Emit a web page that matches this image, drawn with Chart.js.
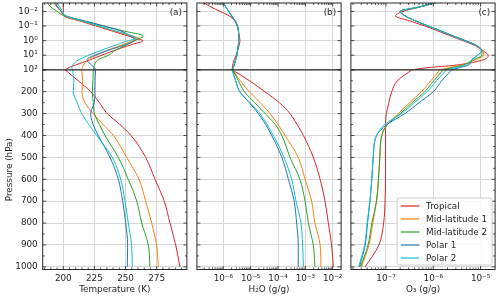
<!DOCTYPE html>
<html>
<head>
<meta charset="utf-8">
<script src="https://cdn.jsdelivr.net/npm/chart.js@4.4.1/dist/chart.umd.min.js"></script>
<style>
  html, body { margin: 0; padding: 0; background: #fff; }
  #wrap { position: relative; width: 500px; height: 299px; }
  #wrap canvas { position: absolute; left: 0; top: 0; }
</style>
</head>
<body>
<div id="wrap">
  <canvas id="cT" width="500" height="299"></canvas>
  <canvas id="cH" width="500" height="299"></canvas>
  <canvas id="cO" width="500" height="299"></canvas>
</div>
<script>
// pressure levels (hPa), shared by every profile
const pressure = [0.0025, 0.005, 0.01, 0.02, 0.05, 0.1, 0.2, 0.5, 0.7, 1, 2, 5, 10, 20, 50, 70,
                  100, 150, 200, 250, 300, 350, 400, 500, 600, 700, 800, 900, 1000];

const seriesNames = ['Tropical', 'Mid-latitude 1', 'Mid-latitude 2', 'Polar 1', 'Polar 2'];
const seriesColors = ['#d62728', '#ff7f0e', '#2ca02c', '#1f77b4', '#17becf'];

// temperature (K)
const tempTropical = [200, 200, 200, 200.5, 215, 226.3, 237.6, 252.7, 258.1, 264, 253.8, 240.2, 231.1, 222, 209, 204.5,
                      201.4, 212, 222, 229, 235.3, 245.5, 254.4, 266.2, 273.7, 281.1, 285.7, 290.3, 293.7];
const tempMid1 = [192, 195, 198, 201, 216.5, 228.1, 239.7, 255.2, 261, 256.2, 246.8, 234.4, 226.6, 220.5, 216, 215.2,
                  214.8, 215.5, 215, 217.4, 224, 232, 240.2, 250.9, 260.8, 266.2, 271, 275, 276.3];
const tempMid2 = [187, 190, 195, 201, 219, 232.8, 246.4, 264.5, 261.1, 257.5, 250.5, 241.2, 236.5, 228, 224.9, 224.4,
                  224.1, 223.8, 223.3, 224.1, 225, 229, 233.5, 244.2, 252.2, 259, 263, 268.3, 269.6];
const tempPolar1 = [193, 195.5, 198.5, 202, 219.2, 232.1, 245, 254, 256.5, 257, 249, 235, 225.5, 219, 223, 225,
                    226, 225.5, 225.5, 224.9, 222, 224, 228.1, 237.5, 244.2, 247.7, 250.1, 251.7, 251.4];
const tempPolar2 = [195, 197, 199.5, 202, 217.3, 228.8, 240.3, 256.5, 259, 252.2, 242.3, 229.2, 220.6, 212.5, 207.3, 206.8,
                    207.5, 208.5, 208, 211.2, 214.8, 220.5, 226.8, 239.4, 246.1, 249.6, 252.2, 254.9, 255.4];

// water vapour (g/g)
const h2oTropical = [1.86e-7, 3.55e-7, 7.59e-7, 1.62e-6, 2.69e-6, 3.16e-6, 3.55e-6, 3.89e-6, 3.98e-6, 4.07e-6, 3.80e-6, 3.31e-6, 2.95e-6, 2.51e-6, 2.19e-6, 2.14e-6,
                     2.09e-6, 9.12e-6, 3.31e-5, 1.12e-4, 2.75e-4, 5.01e-4, 8.51e-4, 1.95e-3, 3.47e-3, 5.25e-3, 6.92e-3, 9.12e-3, 1.05e-2];
const h2oMid1 = [1.0e-6, 1.23e-6, 1.58e-6, 2.0e-6, 2.82e-6, 3.31e-6, 3.55e-6, 3.63e-6, 3.63e-6, 3.63e-6, 3.55e-6, 3.31e-6, 3.16e-6, 2.82e-6, 2.45e-6, 2.3e-6,
                 2.19e-6, 4.17e-6, 8.91e-6, 2.24e-5, 5.13e-5, 1.0e-4, 1.82e-4, 5.50e-4, 9.77e-4, 1.70e-3, 2.24e-3, 3.47e-3, 3.72e-3];
const h2oMid2 = [1.0e-6, 1.23e-6, 1.58e-6, 2.0e-6, 2.82e-6, 3.31e-6, 3.55e-6, 3.63e-6, 3.63e-6, 3.63e-6, 3.55e-6, 3.31e-6, 3.16e-6, 2.82e-6, 2.45e-6, 2.3e-6,
                 2.19e-6, 3.55e-6, 5.89e-6, 1.41e-5, 3.39e-5, 7.94e-5, 1.38e-4, 2.75e-4, 6.31e-4, 9.77e-4, 1.29e-3, 1.95e-3, 2.24e-3];
const h2oPolar1 = [1.0e-6, 1.23e-6, 1.58e-6, 2.0e-6, 2.82e-6, 3.31e-6, 3.55e-6, 3.63e-6, 3.63e-6, 3.63e-6, 3.55e-6, 3.31e-6, 3.16e-6, 2.82e-6, 2.45e-6, 2.25e-6,
                   2.09e-6, 2.82e-6, 3.98e-6, 8.91e-6, 1.91e-5, 3.55e-5, 5.89e-5, 1.38e-4, 2.40e-4, 3.89e-4, 4.79e-4, 5.50e-4, 5.50e-4];
const h2oPolar2 = [1.0e-6, 1.23e-6, 1.58e-6, 2.0e-6, 2.82e-6, 3.31e-6, 3.55e-6, 3.63e-6, 3.63e-6, 3.63e-6, 3.55e-6, 3.31e-6, 3.16e-6, 2.82e-6, 2.45e-6, 2.25e-6,
                   2.09e-6, 2.82e-6, 3.98e-6, 9.55e-6, 2.19e-5, 3.98e-5, 6.76e-5, 1.66e-4, 3.16e-4, 4.57e-4, 6.92e-4, 7.94e-4, 8.51e-4];

// ozone (g/g)
const o3Tropical = [1.15e-6, 5.25e-7, 2.29e-7, 1.58e-7, 3.55e-7, 6.61e-7, 1.17e-6, 2.40e-6, 3.16e-6, 4.17e-6, 7.24e-6, 1.12e-5, 1.45e-5, 1.17e-5, 2.69e-6, 8.13e-7,
                    3.55e-7, 1.74e-7, 1.32e-7, 1.15e-7, 1.02e-7, 9.77e-8, 9.77e-8, 9.77e-8, 9.77e-8, 9.55e-8, 8.91e-8, 7.08e-8, 3.63e-8];
const o3Mid1 = [1.15e-6, 5.01e-7, 2.0e-7, 2.51e-7, 4.57e-7, 7.76e-7, 1.35e-6, 2.69e-6, 3.55e-6, 4.68e-6, 7.94e-6, 1.12e-5, 1.17e-5, 7.94e-6, 3.63e-6, 2.24e-6,
                1.38e-6, 8.91e-7, 5.62e-7, 3.16e-7, 1.82e-7, 1.07e-7, 8.13e-8, 7.41e-8, 6.92e-8, 6.31e-8, 5.25e-8, 4.37e-8, 3.02e-8];
const o3Mid2 = [1.15e-6, 5.01e-7, 2.0e-7, 2.51e-7, 4.57e-7, 7.76e-7, 1.35e-6, 2.69e-6, 3.55e-6, 4.68e-6, 7.94e-6, 1.07e-5, 1.07e-5, 7.24e-6, 4.07e-6, 2.63e-6,
                1.62e-6, 1.02e-6, 6.61e-7, 3.55e-7, 2.0e-7, 1.07e-7, 8.13e-8, 7.41e-8, 6.92e-8, 6.31e-8, 5.01e-8, 4.17e-8, 2.88e-8];
const o3Polar1 = [1.15e-6, 5.01e-7, 2.0e-7, 2.51e-7, 4.57e-7, 7.76e-7, 1.35e-6, 2.69e-6, 3.55e-6, 4.68e-6, 7.94e-6, 1.05e-5, 8.71e-6, 6.61e-6, 5.37e-6, 3.63e-6,
                  2.45e-6, 1.51e-6, 1.0e-6, 5.01e-7, 2.51e-7, 1.05e-7, 6.31e-8, 5.37e-8, 5.01e-8, 4.57e-8, 4.07e-8, 3.63e-8, 2.75e-8];
const o3Polar2 = [1.15e-6, 5.01e-7, 2.0e-7, 2.51e-7, 4.57e-7, 7.76e-7, 1.35e-6, 2.69e-6, 3.55e-6, 4.68e-6, 7.94e-6, 1.05e-5, 8.71e-6, 6.61e-6, 4.68e-6, 3.02e-6,
                  1.91e-6, 1.17e-6, 7.41e-7, 3.98e-7, 2.14e-7, 9.33e-8, 6.31e-8, 5.37e-8, 5.01e-8, 4.57e-8, 3.98e-8, 3.55e-8, 2.63e-8];

// tick labels
const pTopTicks = [0.01, 0.1, 1, 10, 100];
const pBotTicks = [100, 200, 300, 400, 500, 600, 700, 800, 900, 1000];
const tempTicks = [200, 225, 250, 275];
const h2oTicks = [1e-6, 1e-5, 1e-4, 1e-3, 1e-2];
const o3Ticks = [1e-7, 1e-6, 1e-5];

const INK = '#262626';
const GRID = '#d6d6d6';
const FONT = 'DejaVu Sans';
Chart.defaults.font.family = FONT;
Chart.defaults.font.size = 8.8;
Chart.defaults.color = INK;

const SUP = {'-': '\u207B', '0': '\u2070', '1': '\u00B9', '2': '\u00B2', '3': '\u00B3',
             '4': '\u2074', '5': '\u2075', '6': '\u2076', '7': '\u2077', '8': '\u2078', '9': '\u2079'};
function powLabel(v) {
  const e = Math.round(Math.log10(v));
  return '10' + String(e).split('').map(c => SUP[c]).join('');
}

function logMinor(min, max) {
  const out = [];
  for (let d = Math.floor(Math.log10(min)); d <= Math.ceil(Math.log10(max)); d++) {
    for (let k = 2; k <= 9; k++) {
      const v = k * Math.pow(10, d);
      if (v >= min && v <= max) out.push(v);
    }
  }
  return out;
}

// frame, inward ticks, 100 hPa split line, panel letter and legend
const framePlugin = {
  id: 'frame',
  afterDatasetsDraw(chart, args, opts) {
    const {ctx, chartArea: a, scales} = chart;
    ctx.save();
    ctx.strokeStyle = INK;
    ctx.lineWidth = 0.8;
    ctx.beginPath();
    const xs = scales.x;
    const vtick = (v, len) => {
      const px = xs.getPixelForValue(v);
      if (px < a.left + 0.5 || px > a.right - 0.5) return;
      ctx.moveTo(px, a.bottom); ctx.lineTo(px, a.bottom - len);
      ctx.moveTo(px, a.top); ctx.lineTo(px, a.top + len);
    };
    xs.ticks.forEach(t => vtick(t.value, 3.5));
    let xMinor = [];
    if (xs.type === 'logarithmic') xMinor = logMinor(xs.min, xs.max);
    else for (let v = Math.ceil(xs.min / 5) * 5; v <= xs.max; v += 5) if (v % 25) xMinor.push(v);
    xMinor.forEach(v => vtick(v, 2));
    ['yTop', 'yBot'].forEach(id => {
      const s = scales[id];
      const htick = (v, len) => {
        const py = s.getPixelForValue(v);
        ctx.moveTo(a.left, py); ctx.lineTo(a.left + len, py);
        ctx.moveTo(a.right, py); ctx.lineTo(a.right - len, py);
      };
      s.ticks.forEach(t => htick(t.value, 3.5));
      if (id === 'yBot') for (let v = 150; v <= 950; v += 100) htick(v, 2);
    });
    ctx.stroke();

    const yb = scales.yBot.getPixelForValue(100);
    ctx.lineWidth = 1.3;
    ctx.beginPath();
    ctx.moveTo(a.left, yb); ctx.lineTo(a.right, yb);
    ctx.stroke();
    ctx.lineWidth = 1;
    ctx.strokeRect(a.left, a.top, a.width, a.height);

    ctx.fillStyle = INK;
    ctx.font = '8.8px "' + FONT + '"';
    ctx.textAlign = 'right';
    ctx.textBaseline = 'middle';
    ctx.fillText(opts.letter, a.right - 5, a.top + 9.5);

    if (opts.legend) {
      const bw = 95, bh = 67;
      const bx = a.right - 3 - bw, by = a.bottom - 4.5 - bh;
      ctx.beginPath();
      ctx.roundRect(bx, by, bw, bh, 2.5);
      ctx.fillStyle = 'rgba(255,255,255,0.85)';
      ctx.fill();
      ctx.strokeStyle = '#cccccc';
      ctx.lineWidth = 1;
      ctx.stroke();
      ctx.textAlign = 'left';
      seriesNames.forEach((name, i) => {
        const y = by + 8 + i * 13;
        ctx.strokeStyle = seriesColors[i];
        ctx.lineWidth = 1.2;
        ctx.beginPath();
        ctx.moveTo(bx + 3.7, y); ctx.lineTo(bx + 22.3, y);
        ctx.stroke();
        ctx.fillStyle = INK;
        ctx.fillText(name, bx + 29, y + 0.5);
      });
    }
    ctx.restore();
  }
};

function buildDatasets(values) {
  const out = [];
  values.forEach((arr, s) => {
    ['yTop', 'yBot'].forEach(axis => {
      const pts = [];
      pressure.forEach((p, i) => {
        if (axis === 'yTop' ? p <= 100 : p >= 100) pts.push({x: arr[i], y: p});
      });
      out.push({
        label: seriesNames[s],
        data: pts,
        xAxisID: 'x',
        yAxisID: axis,
        borderColor: seriesColors[s],
        backgroundColor: seriesColors[s],
        borderWidth: 1,
        pointRadius: 0,
        fill: false,
        cubicInterpolationMode: 'monotone',
        order: 10 - s
      });
    });
  });
  return out;
}

function makePanel(cfg) {
  const showY = cfg.showY;
  const yCommon = {
    axis: 'y',
    position: 'left',
    stack: 'p',
    reverse: true,
    afterFit: s => { s.width = cfg.left; s.paddingTop = 0; s.paddingBottom = 0; },
    grid: {color: GRID, lineWidth: 1, drawTicks: false},
    border: {display: false}
  };
  new Chart(document.getElementById(cfg.canvas), {
    type: 'line',
    data: {datasets: buildDatasets(cfg.values)},
    plugins: [framePlugin],
    options: {
      responsive: false,
      animation: false,
      indexAxis: 'y',
      layout: {padding: {left: 0, right: 500 - cfg.right, top: 3, bottom: 0}},
      scales: {
        x: {
          type: cfg.xType,
          position: 'bottom',
          min: cfg.xMin,
          max: cfg.xMax,
          afterBuildTicks: s => { s.ticks = cfg.xTicks.map(v => ({value: v})); },
          afterFit: s => { s.height = 29.5; s.paddingLeft = 0; s.paddingRight = 0; },
          ticks: {
            autoSkip: false, maxRotation: 0, padding: 4,
            callback: v => cfg.xType === 'logarithmic' ? powLabel(v) : String(v)
          },
          grid: {color: GRID, lineWidth: 1, drawTicks: false},
          border: {display: false},
          title: {display: true, text: cfg.xTitle, padding: {top: 0, bottom: 3.7}, font: {size: 8.8}}
        },
        yBot: Object.assign({}, yCommon, {
          type: 'linear',
          min: 100,
          max: 1012,
          stackWeight: 199.7,
          afterBuildTicks: s => { s.ticks = pBotTicks.map(v => ({value: v})); },
          ticks: {display: showY, autoSkip: false, padding: 5, callback: v => v === 100 ? '' : String(v)},
          title: {display: showY, text: 'Pressure (hPa)', padding: {top: 4.7, bottom: 0}, font: {size: 8.8}}
        }),
        yTop: Object.assign({}, yCommon, {
          type: 'logarithmic',
          min: 0.00266,
          max: 100,
          stackWeight: 66.8,
          afterBuildTicks: s => { s.ticks = pTopTicks.map(v => ({value: v})); },
          ticks: {display: showY, autoSkip: false, padding: 5, callback: v => powLabel(v)}
        })
      },
      plugins: {
        legend: {display: false},
        tooltip: {enabled: false},
        frame: {letter: cfg.letter, legend: cfg.legend}
      }
    }
  });
}

makePanel({
  canvas: 'cT', values: [tempTropical, tempMid1, tempMid2, tempPolar1, tempPolar2],
  xType: 'linear', xMin: 183.45, xMax: 299.3, xTicks: tempTicks, xTitle: 'Temperature (K)',
  left: 42.7, right: 186.9, showY: true, letter: '(a)', legend: false
});
makePanel({
  canvas: 'cH', values: [h2oTropical, h2oMid1, h2oMid2, h2oPolar1, h2oPolar2],
  xType: 'logarithmic', xMin: 1.08e-7, xMax: 2.03e-2, xTicks: h2oTicks, xTitle: 'H\u2082O (g/g)',
  left: 196.9, right: 341.1, showY: false, letter: '(b)', legend: false
});
makePanel({
  canvas: 'cO', values: [o3Tropical, o3Mid1, o3Mid2, o3Polar1, o3Polar2],
  xType: 'logarithmic', xMin: 1.81e-8, xMax: 2.03e-5, xTicks: o3Ticks, xTitle: 'O\u2083 (g/g)',
  left: 350.9, right: 495.1, showY: false, letter: '(c)', legend: true
});
</script>
</body>
</html>
